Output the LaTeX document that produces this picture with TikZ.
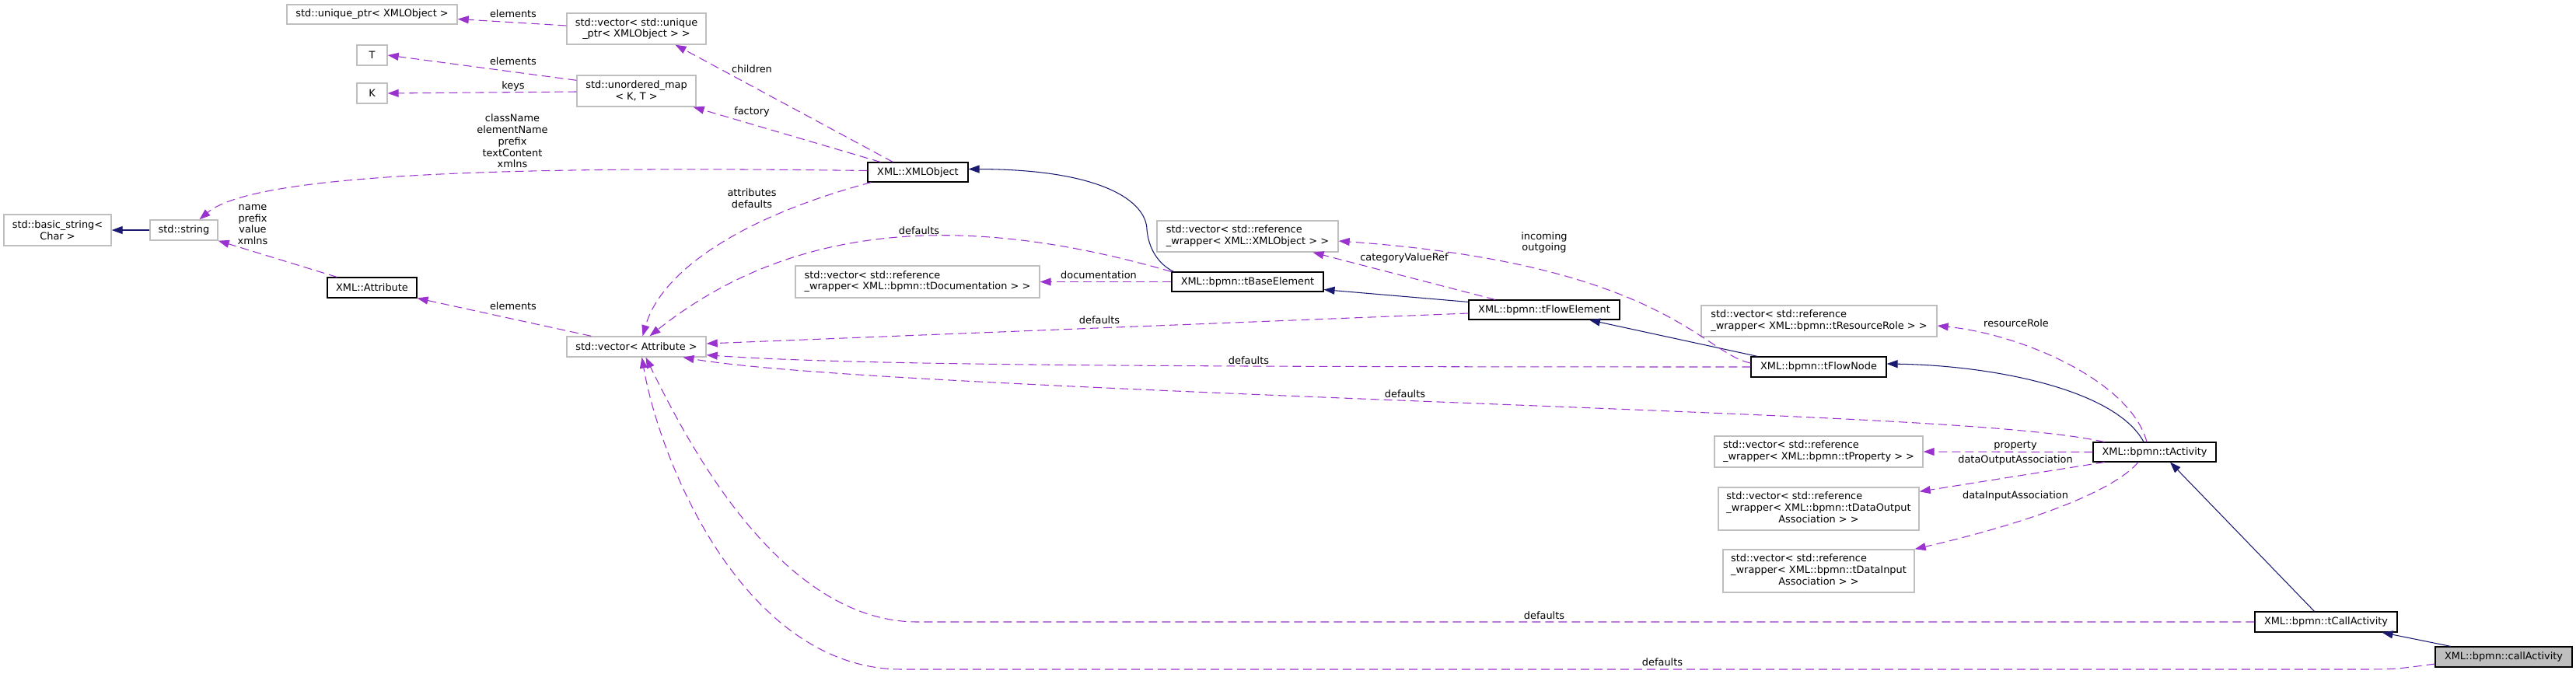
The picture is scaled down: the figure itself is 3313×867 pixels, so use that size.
\documentclass[tikz,border=0pt]{standalone}
\usepackage{fontspec}
\setmainfont{DejaVu Sans}
\usetikzlibrary{arrows.meta,calc}
\definecolor{dep}{HTML}{9A32CD}
\definecolor{inh}{HTML}{191970}
\definecolor{gb}{HTML}{BFBFBF}
\begin{document}
\begin{tikzpicture}[x=1pt,y=-1pt,font=\fontsize{12.9}{14.7}\selectfont,
  box/.style={draw=gb,line width=1.4pt,fill=white,inner sep=0pt,align=center},
  dbox/.style={box,draw=black,line width=1.1pt},
  mbox/.style={dbox,fill=gb},
  lbl/.style={inner sep=0pt,align=center},
  use/.style={draw=dep,line width=1.05pt,dash pattern=on 11pt off 6pt,-{Triangle[length=14pt,width=10pt]}},
  inhe/.style={draw=inh,line width=1.05pt,-{Triangle[length=14pt,width=10pt]}}]
\fill[white] (0,0) rectangle (3313,867);
\useasboundingbox (0,0) rectangle (3313,867);
% nodes
\node[box,minimum width=219pt,minimum height=25pt] (uniq) at (478.5,18.5) {std::unique\_ptr< XMLObject >};
\node[box,minimum width=179pt,minimum height=40pt] (vecU) at (818.5,37) {std::vector< std::unique\\\_ptr< XMLObject > >};
\node[box,minimum width=39pt,minimum height=26pt] (T) at (478.5,71) {T};
\node[box,minimum width=39pt,minimum height=26pt] (K) at (478.5,120) {K};
\node[box,minimum width=153pt,minimum height=40pt] (umap) at (818.5,117) {std::unordered\_map\\< K, T >};
\node[dbox,minimum width=129pt,minimum height=25pt] (xmlobj) at (1180.5,221.5) {XML::XMLObject};
\node[box,minimum width=138pt,minimum height=40pt] (basic) at (74,296) {std::basic\_string<\\Char >};
\node[box,minimum width=87pt,minimum height=26pt] (string) at (236.5,296) {std::string};
\node[dbox,minimum width=115pt,minimum height=26pt] (attr) at (478.5,370) {XML::Attribute};
\node[box,minimum width=179pt,minimum height=26pt] (vecAttr) at (818.5,446) {std::vector< Attribute >};
\node[box,minimum width=314pt,minimum height=41pt] (doc) at (1180,362.5) {\begin{tabular}{@{}l@{}}std::vector< std::reference\\\_wrapper< XML::bpmn::tDocumentation > >\end{tabular}};
\node[dbox,minimum width=195pt,minimum height=25pt] (tBase) at (1604.5,362.5) {XML::bpmn::tBaseElement};
\node[box,minimum width=233pt,minimum height=40pt] (xmlref) at (1604.5,304) {\begin{tabular}{@{}l@{}}std::vector< std::reference\\\_wrapper< XML::XMLObject > >\end{tabular}};
\node[dbox,minimum width=194pt,minimum height=25pt] (tFE) at (1986,398.5) {XML::bpmn::tFlowElement};
\node[box,minimum width=303pt,minimum height=40pt] (res) at (2339.5,413) {\begin{tabular}{@{}l@{}}std::vector< std::reference\\\_wrapper< XML::bpmn::tResourceRole > >\end{tabular}};
\node[dbox,minimum width=174pt,minimum height=26pt] (tFN) at (2339,472) {XML::bpmn::tFlowNode};
\node[dbox,minimum width=158pt,minimum height=25pt] (tAct) at (2771,581.5) {XML::bpmn::tActivity};
\node[box,minimum width=268pt,minimum height=40pt] (prop) at (2339,581) {\begin{tabular}{@{}l@{}}std::vector< std::reference\\\_wrapper< XML::bpmn::tProperty > >\end{tabular}};
\node[box,minimum width=258pt,minimum height=55pt] (dataout) at (2339,654.5) {\begin{tabular}{@{}l@{}}std::vector< std::reference\\\_wrapper< XML::bpmn::tDataOutput\\\multicolumn{1}{@{}c@{}}{Association > >}\end{tabular}};
\node[box,minimum width=246pt,minimum height=55pt] (datain) at (2339,734.5) {\begin{tabular}{@{}l@{}}std::vector< std::reference\\\_wrapper< XML::bpmn::tDataInput\\\multicolumn{1}{@{}c@{}}{Association > >}\end{tabular}};
\node[dbox,minimum width=183pt,minimum height=26pt] (tCall) at (2991.5,800) {XML::bpmn::tCallActivity};
\node[mbox,minimum width=176pt,minimum height=26pt] (call) at (3220,845) {XML::bpmn::callActivity};
% edges
\draw[inhe] (string.west) -- (basic.east);
\draw[use] ($(vecU.west)+(0,-4)$) -- ($(uniq.east)+(0,6)$);
\draw[use] ($(umap.north west)+(0,7)$) -- (T.east);
\draw[use] ($(umap.west)+(0,1)$) -- (K.east);
\draw[use] ($(xmlobj.north)+(-32,0)$) -- ($(vecU.south)+(50,0)$);
\draw[use] ($(xmlobj.north)+(-48,0)$) -- ($(umap.south east)+(-4,0)$);
\draw[use] ($(xmlobj.west)+(0,-2)$) .. controls (700,214) and (330,220) .. ($(string.north)+(20,0)$);
\draw[use] ($(attr.north)+(-45,0)$) -- (string.south east);
\draw[use] ($(vecAttr.north west)+(32,0)$) -- (attr.south east);
\draw[use] ($(xmlobj.south west)+(5,0)$) .. controls (950,280) and (850,350) .. ($(vecAttr.north)+(8,0)$);
\draw[use] (tBase.north west) .. controls (1300,290) and (1050,262) .. ($(vecAttr.north)+(17,0)$);
\draw[use] (tBase.west) -- (doc.east);
\draw[inhe] ($(tBase.north west)+(3,0)$) .. controls (1490,340) and (1477,320) .. (1475,295) .. controls (1474,260) and (1420,218) .. ($(xmlobj.east)+(0,-4)$);
\draw[inhe] ($(tFE.north west)+(0,3)$) -- ($(tBase.south east)+(0,-3)$);
\draw[use] ($(tFE.west)+(0,4.5)$) -- ($(vecAttr.east)+(0,-4)$);
\draw[use] ($(tFE.north)+(-63,0)$) -- ($(xmlref.south)+(84,0)$);
\draw[inhe] ($(tFN.north west)+(9,0)$) -- ($(tFE.south)+(58,0)$);
\draw[use] ($(tFN.west)+(0,-5)$) .. controls (2190,455) and (2140,340) .. ($(xmlref.east)+(0,6)$);
\draw[use] (tFN.west) .. controls (1500,472) and (1100,470) .. ($(vecAttr.south east)+(0,-3)$);
\draw[inhe] ($(tAct.north)+(-14,0)$) .. controls (2720,500) and (2560,470) .. ($(tFN.east)+(0,-4)$);
\draw[use] ($(tAct.north)+(-10,0)$) .. controls (2740,490) and (2600,430) .. ($(res.east)+(0,6)$);
\draw[use] ($(tAct.north west)+(15,0)$) .. controls (2600,545) and (2300,535) .. (1800,515) .. controls (1300,495) and (1000,480) .. ($(vecAttr.south)+(60,0)$);
\draw[use] (tAct.west) -- (prop.east);
\draw[use] ($(tAct.south west)+(15,0)$) -- ($(dataout.north east)+(0,6)$);
\draw[use] ($(tAct.south)+(-21,0)$) .. controls (2720,630) and (2620,670) .. (datain.north east);
\draw[inhe] ($(tCall.north)+(-15,0)$) -- ($(tAct.south)+(20,0)$);
\draw[use] (tCall.west) -- (1180,800) .. controls (1000,800) and (880,560) .. ($(vecAttr.south)+(12,0)$);
\draw[inhe] ($(call.north)+(-68,0)$) -- ($(tCall.south)+(72,0)$);
\draw[use] ($(call.west)+(0,9)$) .. controls (3080,861) .. (3030,861) -- (1160,861) .. controls (960,861) and (850,600) .. ($(vecAttr.south)+(7,0)$);
% labels
\node[lbl] (l1) at (660,18) {elements};
\node[lbl] (l2) at (660,79) {elements};
\node[lbl] (l3) at (660,111) {keys};
\node[lbl] (l4) at (967,89) {children};
\node[lbl] (l5) at (967,144) {factory};
\node[lbl] (l6) at (659,181.5) {className\\elementName\\prefix\\textContent\\xmlns};
\node[lbl] (l7) at (325,289) {name\\prefix\\value\\xmlns};
\node[lbl] (l8) at (967,255.5) {attributes\\defaults};
\node[lbl] (l9) at (1182,297) {defaults};
\node[lbl] (l10) at (660,394) {elements};
\node[lbl] (l11) at (1413,354) {documentation};
\node[lbl] (l12) at (1806,332) {categoryValueRef};
\node[lbl] (l13) at (1986,312) {incoming\\outgoing};
\node[lbl] (l14) at (1414,412) {defaults};
\node[lbl] (l15) at (1606,464) {defaults};
\node[lbl] (l16) at (2593,416) {resourceRole};
\node[lbl] (l17) at (1807,507) {defaults};
\node[lbl] (l18) at (2592,573) {property};
\node[lbl] (l19) at (2592,592) {dataOutputAssociation};
\node[lbl] (l20) at (2592,638) {dataInputAssociation};
\node[lbl] (l21) at (1986,792) {defaults};
\node[lbl] (l22) at (2138,852) {defaults};
\end{tikzpicture}
\end{document}
